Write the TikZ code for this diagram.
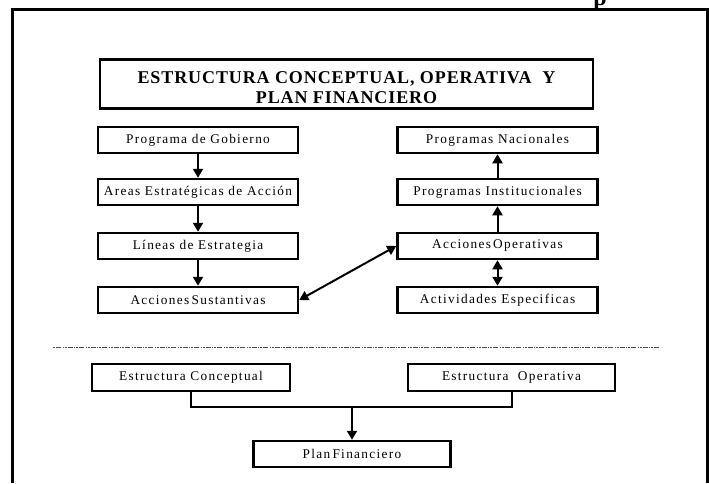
\documentclass[tikz,border=0pt]{standalone}
\usepackage{fontspec}
\setmainfont{Liberation Serif}
\newfontfamily\cajafont[LetterSpace=10]{Liberation Serif}
\newfontfamily\titulofont[LetterSpace=5]{Liberation Serif}
\usetikzlibrary{arrows.meta}

\begin{document}
\begin{tikzpicture}[x=1pt,y=-1pt,
  >={Triangle[length=9pt,width=10pt]},
  caja/.style={draw,line width=2.5pt,minimum width=200pt,minimum height=26pt,
    inner sep=0pt,font=\cajafont\fontsize{13.3}{15}\selectfont},
  titulo/.style={draw,line width=2.5pt,minimum width=493pt,minimum height=49pt},
  titulotxt/.style={align=center,inner sep=0pt,
    font=\titulofont\bfseries\fontsize{18}{20}\selectfont},
  flecha/.style={line width=2pt},
  separa/.style={black!70,line width=1pt,dash pattern=on 2pt off 1pt on 5pt off 1.5pt on 1pt off 1pt}]
\useasboundingbox (0,0) rectangle (709,483);
% marco
\draw[line width=3pt] (12,483) -- (12,9) -- (707,9) -- (707,483);
\node[font=\bfseries\fontsize{24}{24}\selectfont,anchor=base] (corte) at (600,5) {p};

\node[titulo] (titulo) at (346.5,84) {};
\node[titulotxt] (titulotxt) at ([yshift=-4pt]titulo.center) {ESTRUCTURA CONCEPTUAL, OPERATIVA\ \ Y\\PLAN FINANCIERO};

% conceptual
\node[caja] (gob) at (198,140) {Programa de Gobierno};
\node[caja] (areas) at (198,192) {Areas Estratégicas de Acción};
\node[caja] (lineas) at (198,246) {Líneas de Estrategia};
\node[caja] (sust) at (198,300) {Acciones\,Sustantivas};
\draw[flecha,->] (gob) -- (areas);
\draw[flecha,->] (areas) -- (lineas);
\draw[flecha,->] (lineas) -- (sust);

% operativa
\node[caja] (nac) at (497.5,140) {Programas Nacionales};
\node[caja] (inst) at (497.5,192) {Programas Institucionales};
\node[caja] (oper) at (497.5,246) {Acciones\,Operativas};
\node[caja] (activ) at (497.5,300) {Actividades Especificas};
\draw[flecha,->] (inst) -- (nac);
\draw[flecha,->] (oper) -- (inst);
\draw[flecha,<->] (oper) -- (activ);
\draw[flecha,<->] (sust.east) -- (oper.west);

\coordinate (sepa) at (53,347);
\coordinate (sepb) at (660,347);
\draw[separa] (sepa) -- (sepb);

% plan financiero
\node[caja,minimum width=198pt,minimum height=27pt] (conc) at (191,377.5) {Estructura Conceptual};
\node[caja,minimum width=207pt,minimum height=27pt] (opera) at (511.5,377.5) {Estructura\ \ Operativa};
\node[caja,minimum width=197pt] (plan) at (352,454) {Plan\,Financiero};
\coordinate (union) at (352,407);
\draw[flecha] (conc.south) -- (conc.south |- union) -- (opera.south |- union) -- (opera.south);
\draw[flecha,->] (union) -- (plan.north);
\end{tikzpicture}
\end{document}
